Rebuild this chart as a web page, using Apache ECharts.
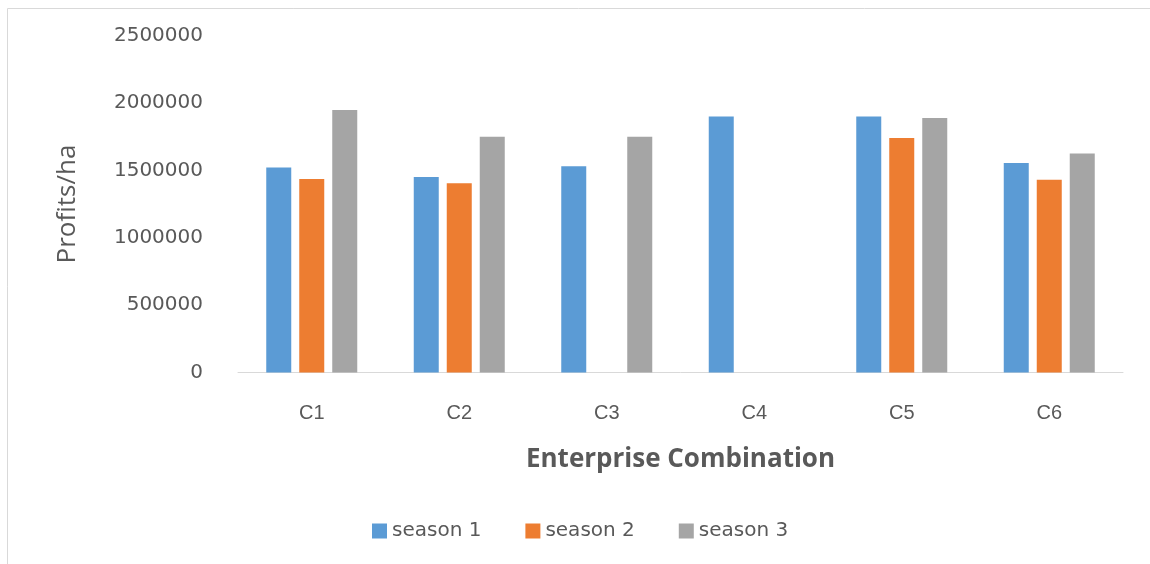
<!DOCTYPE html>
<html>
<head>
<meta charset="utf-8">
<script src="https://cdn.jsdelivr.net/npm/echarts@6/dist/echarts.min.js"></script>
<style>
html,body{margin:0;padding:0;background:#fff;}
#chart{width:1150px;height:564px;}
</style>
</head>
<body>
<div id="chart"></div>
<script>
const categories = ['C1', 'C2', 'C3', 'C4', 'C5', 'C6'];
const season1 = [1520000, 1450000, 1530000, 1900000, 1900000, 1555000];
const season2 = [1436000, 1404000, null, null, 1739000, 1429000];
const season3 = [1947000, 1749000, 1749000, null, 1888000, 1624000];
const seriesNames = ['season 1', 'season 2', 'season 3'];
const yMin = 0, yMax = 2500000, yStep = 500000;

const colors = ['#5b9bd5', '#ed7d31', '#a5a5a5'];
const chart = echarts.init(document.getElementById('chart'), null, {renderer: 'canvas'});
const textColor = '#595959';

chart.setOption({
  animation: false,
  color: colors,
  graphic: [
    {type: 'line', shape: {x1: 7.5, y1: 8.5, x2: 1150, y2: 8.5}, style: {stroke: '#d9d9d9', lineWidth: 1}},
    {type: 'line', shape: {x1: 7.5, y1: 8.5, x2: 7.5, y2: 564}, style: {stroke: '#d9d9d9', lineWidth: 1}}
  ],
  grid: {left: 238, right: 27, top: 35.5, bottom: 191.5, containLabel: false},
  legend: {
    data: seriesNames,
    left: 367, top: 516,
    itemWidth: 15, itemHeight: 15, itemGap: 44,
    icon: 'rect',
    textStyle: {color: textColor, fontFamily: 'DejaVu Sans', fontSize: 20}
  },
  xAxis: {
    type: 'category',
    data: categories,
    name: 'Enterprise Combination',
    nameLocation: 'middle',
    nameGap: 74,
    nameTextStyle: {color: textColor, fontFamily: 'Open Sans', fontSize: 26, fontWeight: 'bold'},
    axisLine: {show: true, lineStyle: {color: '#d9d9d9', width: 1}},
    axisTick: {show: false},
    axisLabel: {color: textColor, fontFamily: 'Liberation Sans Narrow, Liberation Sans', fontSize: 20, margin: 31}
  },
  yAxis: {
    type: 'value',
    min: yMin, max: yMax, interval: yStep,
    name: 'Profits/ha',
    nameLocation: 'middle',
    nameGap: 157,
    nameRotate: 90,
    nameTextStyle: {color: textColor, fontFamily: 'Open Sans', fontSize: 26},
    axisLine: {show: false},
    axisTick: {show: false},
    splitLine: {show: false},
    axisLabel: {color: textColor, fontFamily: 'DejaVu Sans', fontSize: 20, margin: 35, formatter: v => String(v)}
  },
  series: [
    {name: seriesNames[0], type: 'bar', data: season1, barWidth: 25, barGap: '32%'},
    {name: seriesNames[1], type: 'bar', data: season2, barWidth: 25, barGap: '32%'},
    {name: seriesNames[2], type: 'bar', data: season3, barWidth: 25, barGap: '32%'}
  ]
});
</script>
</body>
</html>
